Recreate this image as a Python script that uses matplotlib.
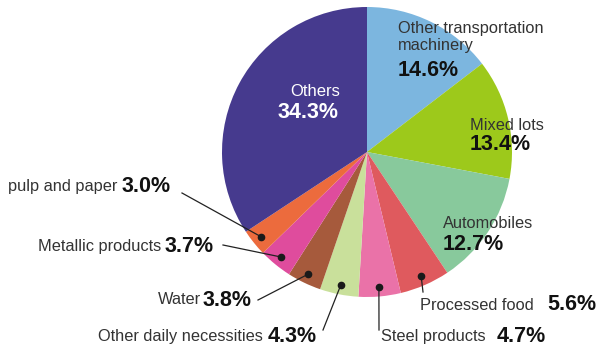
import numpy as np
import matplotlib
matplotlib.use("Agg")
import matplotlib.pyplot as plt

plt.rcParams["font.family"] = ["Liberation Sans", "DejaVu Sans"]

categories = ["Other transportation\nmachinery", "Mixed lots", "Automobiles",
              "Processed food", "Steel products", "Other daily necessities",
              "Water", "Metallic products", "pulp and paper", "Others"]
shares = [14.6, 13.4, 12.7, 5.6, 4.7, 4.3, 3.8, 3.7, 3.0, 34.3]
colors = ["#7cb6df", "#9dc91b", "#88c99c", "#df5a5e", "#ea72a8", "#c9e09b",
          "#a65a3c", "#df4c9d", "#ec6b3d", "#463a8e"]

W, H = 600, 356
cx, cy, R = 367, H - 152, 145

fig = plt.figure(figsize=(6, 3.56), dpi=100)
ax = fig.add_axes([0, 0, 1, 1])
wedges, _ = ax.pie(shares, colors=colors, startangle=90, counterclock=False,
                   center=(cx, cy), radius=R, wedgeprops=dict(linewidth=0))
ax.set_xlim(0, W)
ax.set_ylim(0, H)
ax.set_aspect("equal")
ax.axis("off")

name_fs, pct_fs = 11.8, 15.5
gray, black = "#333333", "#111111"


def pct(v):
    return f"{v:.1f}%"


# labels inside the big wedges: (x, name y, pct y) in px from top
inside = {
    0: (398, 37, 70),
    1: (470, 125, 145),
    2: (443, 223, 245),
}
for i, (x, yn, yp) in inside.items():
    ax.text(x, H - yn, categories[i], fontsize=name_fs, color=gray,
            ha="left", va="center", linespacing=1.2)
    ax.text(x, H - yp, pct(shares[i]), fontsize=pct_fs, color=black,
            fontweight="bold", ha="left", va="center")

# Others label (white, centered)
ax.text(315, H - 92, categories[9], fontsize=12, color="white", ha="center", va="center")
ax.text(308, H - 113, pct(shares[9]), fontsize=pct_fs, color="white",
        fontweight="bold", ha="center", va="center")

# outside labels: index -> (name x, label y, pct x, line end x, line end y)
outside = {
    3: (420, 305, 547, 423, 292),
    4: (381, 336, 497, 379, 330),
    5: (98, 337, 268, 323, 330),
    6: (158, 300, 203, 258, 300),
    7: (38, 247, 165, 223, 245),
    8: (8, 187, 122, 182, 193),
}
for i, (xn, yl, xp, lx, ly) in outside.items():
    w = wedges[i]
    mid = np.deg2rad((w.theta1 + w.theta2) / 2)
    dx = cx + 0.935 * R * np.cos(mid)
    dy = cy + 0.935 * R * np.sin(mid)
    ax.plot([dx, lx], [dy, H - ly], color="#222222", lw=0.9)
    ax.plot(dx, dy, "o", color="#1a1a1a", ms=4.5)
    ax.text(xn, H - yl, categories[i], fontsize=name_fs, color=gray,
            ha="left", va="center")
    ax.text(xp, H - yl, pct(shares[i]), fontsize=pct_fs, color=black,
            fontweight="bold", ha="left", va="center")

fig.savefig("out.png", dpi=100)
